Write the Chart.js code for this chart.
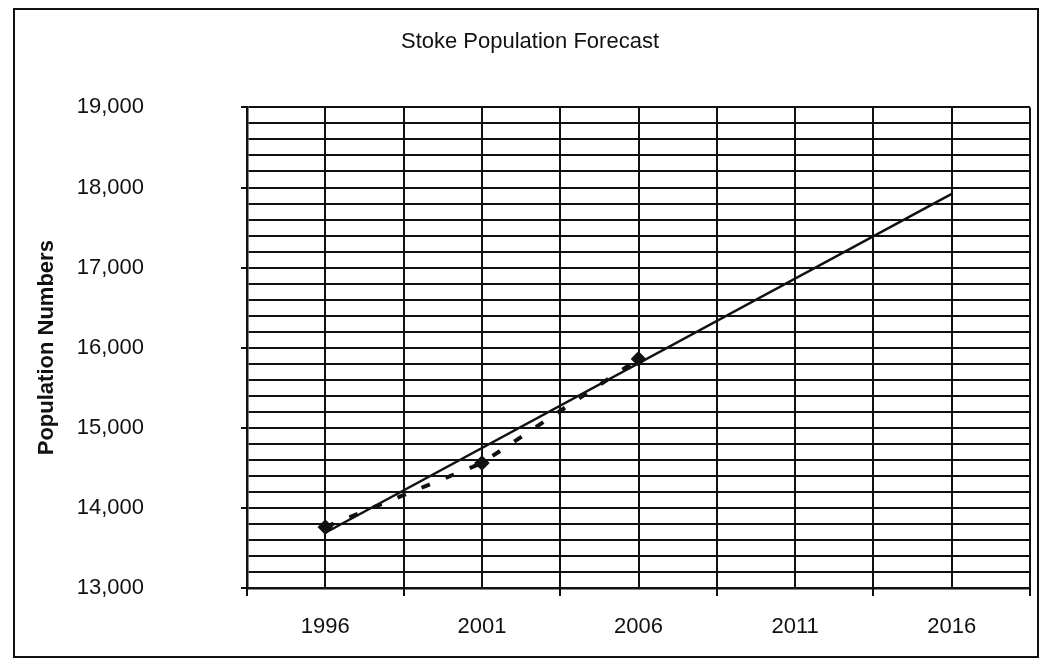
<!DOCTYPE html>
<html>
<head>
<meta charset="utf-8">
<script src="https://cdn.jsdelivr.net/npm/chart.js@4/dist/chart.umd.min.js"></script>
<style>
  html, body { margin: 0; padding: 0; background: #fff; }
  #wrap { width: 1043px; height: 660px; position: relative; }
</style>
</head>
<body>
<div id="wrap"><canvas id="c" width="1043" height="660"></canvas></div>
<script>
// ---- data ----
const censusYears = [1996, 2001, 2006];
const populationValues = [13760, 14560, 15860];
const trendYears = [1996, 2016];
const trendValues = [13690, 17920];
const xTickLabels = ['1996', '2001', '2006', '2011', '2016'];
const yTickLabels = ['13,000', '14,000', '15,000', '16,000', '17,000', '18,000', '19,000'];
const chartTitle = 'Stoke Population Forecast';
const yAxisTitle = 'Population Numbers';

const FONT = "'Liberation Sans', Arial, Helvetica, sans-serif";
const INK = '#111';

const toPoints = (xs, ys) => xs.map((x, i) => ({ x: x, y: ys[i] }));

// white background, outer frame, and short axis tick marks
const decorPlugin = {
  id: 'decor',
  beforeDraw(chart) {
    const c = chart.ctx;
    c.save();
    c.fillStyle = '#fff';
    c.fillRect(0, 0, chart.width, chart.height);
    c.restore();
  },
  afterDraw(chart) {
    const c = chart.ctx;
    const a = chart.chartArea;
    const xs = chart.scales.x, ys = chart.scales.y;
    c.save();
    c.strokeStyle = INK;
    c.lineWidth = 2;
    c.beginPath();
    xs.ticks.forEach(t => {
      if (!Number.isInteger(t.value) && Math.abs(((t.value - xs.min) % 5)) < 1e-6) {
        const px = Math.round(xs.getPixelForValue(t.value));
        c.moveTo(px, a.bottom);
        c.lineTo(px, a.bottom + 8);
      }
    });
    ys.ticks.forEach(t => {
      if (t.value % 1000 === 0) {
        const py = Math.round(ys.getPixelForValue(t.value));
        c.moveTo(a.left - 6, py);
        c.lineTo(a.left, py);
      }
    });
    c.stroke();
    c.strokeRect(14, 9, chart.width - 19, chart.height - 12);
    c.restore();
  }
};

new Chart(document.getElementById('c'), {
  type: 'line',
  data: {
    datasets: [
      {
        label: 'Population',
        data: toPoints(censusYears, populationValues),
        borderColor: INK,
        backgroundColor: INK,
        borderWidth: 4,
        borderDash: [9, 17],
        pointStyle: 'rectRot',
        pointRadius: 5,
        pointBackgroundColor: INK,
        pointBorderColor: INK,
        fill: false,
        tension: 0
      },
      {
        label: 'Trend',
        data: toPoints(trendYears, trendValues),
        borderColor: INK,
        borderWidth: 2.5,
        pointRadius: 0,
        fill: false,
        tension: 0
      }
    ]
  },
  options: {
    responsive: false,
    animation: false,
    devicePixelRatio: 1,
    layout: { padding: { left: 30, right: 13, top: 0, bottom: 0 } },
    plugins: {
      legend: { display: false },
      tooltip: { enabled: false },
      title: {
        display: true,
        text: chartTitle,
        color: INK,
        font: { family: FONT, size: 22, weight: 'normal' },
        padding: { top: 29, bottom: 52 }
      }
    },
    scales: {
      x: {
        type: 'linear',
        min: 1993.5,
        max: 2018.5,
        afterFit(scale) { scale.height = 72; },
        ticks: {
          stepSize: 2.5,
          autoSkip: false,
          maxRotation: 0,
          padding: 0,
          color: INK,
          font: { family: FONT, size: 22 },
          callback(value) {
            const s = String(value);
            return xTickLabels.includes(s) ? s : '';
          }
        },
        grid: {
          color: INK,
          lineWidth: 2,
          drawTicks: true,
          tickLength: 26,
          tickColor: 'rgba(0,0,0,0)'
        },
        border: { color: INK, width: 2.5 }
      },
      y: {
        type: 'linear',
        min: 13000,
        max: 19000,
        afterFit(scale) { scale.width = 217; },
        title: {
          display: true,
          text: yAxisTitle,
          color: INK,
          font: { family: FONT, size: 22, weight: 'bold' },
          padding: { top: 4, bottom: 0 }
        },
        ticks: {
          stepSize: 200,
          autoSkip: false,
          padding: 0,
          color: INK,
          font: { family: FONT, size: 22 },
          callback(value) {
            const s = Number(value).toLocaleString('en-US');
            return yTickLabels.includes(s) ? s : '';
          }
        },
        grid: {
          color: INK,
          lineWidth: 2,
          drawTicks: true,
          tickLength: 103,
          tickColor: 'rgba(0,0,0,0)'
        },
        border: { color: INK, width: 2.5 }
      }
    }
  },
  plugins: [decorPlugin]
});
</script>
</body>
</html>
